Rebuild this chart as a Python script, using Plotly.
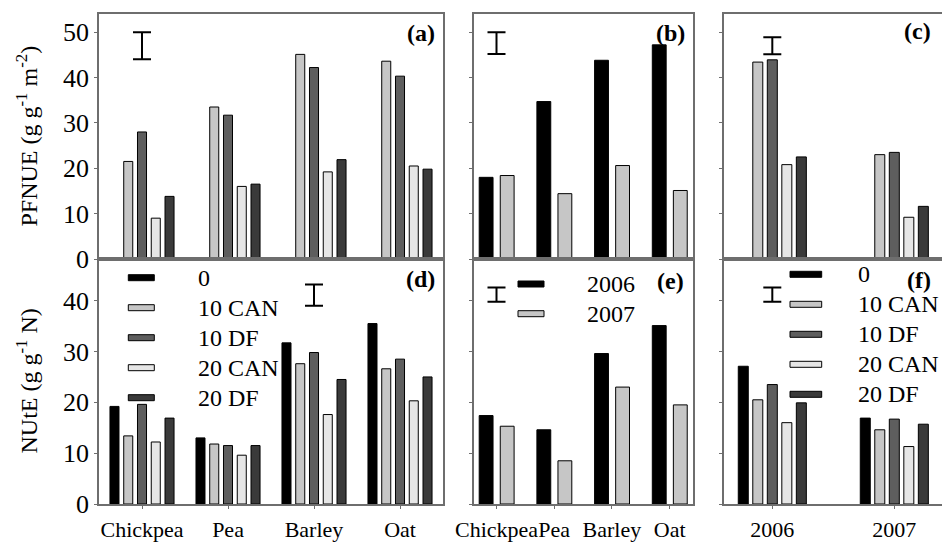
import plotly.graph_objects as go
from plotly.subplots import make_subplots

# ---------------- data ----------------
crops = ["Chickpea", "Pea", "Barley", "Oat"]
years = ["2006", "2007"]
treatments = ["0", "10 CAN", "10 DF", "20 CAN", "20 DF"]

# (a) PFNUE by crop and N treatment (no value for 0 N)
pfnue_crop_0 = [None, None, None, None]
pfnue_crop_10can = [21.5, 33.5, 45.1, 43.6]
pfnue_crop_10df = [28.0, 31.7, 42.2, 40.3]
pfnue_crop_20can = [9.0, 16.0, 19.2, 20.5]
pfnue_crop_20df = [13.8, 16.5, 21.9, 19.8]

# (b) PFNUE by crop and year
pfnue_crop_2006 = [18.0, 34.7, 43.8, 47.2]
pfnue_crop_2007 = [18.4, 14.4, 20.6, 15.1]

# (c) PFNUE by year and N treatment
pfnue_year_0 = [None, None]
pfnue_year_10can = [43.4, 23.0]
pfnue_year_10df = [43.9, 23.5]
pfnue_year_20can = [20.8, 9.2]
pfnue_year_20df = [22.5, 11.6]

# (d) NUtE by crop and N treatment
nute_crop_0 = [19.2, 13.0, 31.7, 35.5]
nute_crop_10can = [13.4, 11.8, 27.6, 26.6]
nute_crop_10df = [19.6, 11.5, 29.8, 28.5]
nute_crop_20can = [12.2, 9.6, 17.6, 20.3]
nute_crop_20df = [16.9, 11.5, 24.5, 25.0]

# (e) NUtE by crop and year
nute_crop_2006 = [17.4, 14.6, 29.6, 35.1]
nute_crop_2007 = [15.3, 8.5, 23.0, 19.5]

# (f) NUtE by year and N treatment
nute_year_0 = [27.1, 16.9]
nute_year_10can = [20.5, 14.6]
nute_year_10df = [23.5, 16.7]
nute_year_20can = [16.0, 11.3]
nute_year_20df = [19.9, 15.7]

# LSD bars: category, centre, half length  (panels a..f)
lsd_x = ["Chickpea", "Chickpea", "2006", "Barley", "Chickpea", "2006"]
lsd_center = [47.0, 47.6, 47.0, 41.1, 41.2, 41.2]
lsd_half = [3.0, 2.4, 1.85, 2.1, 1.4, 1.4]

# ---------------- styles ----------------
trt_colors = ["#000000", "#c6c6c6", "#5e5e5e", "#e6e6e6", "#3a3a3a"]
year_colors = ["#000000", "#c6c6c6"]
FONT = "Liberation Serif, Times New Roman, serif"
AX = "#6e6e6e"

W, H = 942, 542
L, R, T, B = 99, 0, 14, 38
PW, PH = W - L - R, H - T - B


def px(x):
    return (x - L) / PW


def py(y):
    return (H - B - y) / PH


fig = make_subplots(rows=2, cols=3)

pan_a = [pfnue_crop_0, pfnue_crop_10can, pfnue_crop_10df, pfnue_crop_20can, pfnue_crop_20df]
pan_c = [pfnue_year_0, pfnue_year_10can, pfnue_year_10df, pfnue_year_20can, pfnue_year_20df]
pan_d = [nute_crop_0, nute_crop_10can, nute_crop_10df, nute_crop_20can, nute_crop_20df]
pan_f = [nute_year_0, nute_year_10can, nute_year_10df, nute_year_20can, nute_year_20df]
pan_b = [pfnue_crop_2006, pfnue_crop_2007]
pan_e = [nute_crop_2006, nute_crop_2007]


def add_trt(panel, cats, row, col, pitch, width):
    for i, vals in enumerate(panel):
        fig.add_trace(go.Bar(
            x=cats, y=vals, name=treatments[i],
            marker=dict(color=trt_colors[i], line=dict(color="black", width=1)),
            width=width, offset=(i - 2) * pitch - width / 2,
            showlegend=False), row=row, col=col)


def add_year(panel, cats, row, col):
    offs = [-0.30, 0.065]
    for i, vals in enumerate(panel):
        fig.add_trace(go.Bar(
            x=cats, y=vals, name=years[i],
            marker=dict(color=year_colors[i], line=dict(color="black", width=1)),
            width=0.24, offset=offs[i], showlegend=False), row=row, col=col)


add_trt(pan_a, crops, 1, 1, 0.16, 0.105)
add_year(pan_b, crops, 1, 2)
add_trt(pan_c, years, 1, 3, 0.119, 0.082)
add_trt(pan_d, crops, 2, 1, 0.16, 0.105)
add_year(pan_e, crops, 2, 2)
add_trt(pan_f, years, 2, 3, 0.119, 0.082)

# LSD bars
cells = [(1, 1), (1, 2), (1, 3), (2, 1), (2, 2), (2, 3)]
for k, (r, c) in enumerate(cells):
    fig.add_trace(go.Scatter(
        x=[lsd_x[k]], y=[lsd_center[k]], mode="markers",
        marker=dict(size=1, color="rgba(0,0,0,0)"),
        error_y=dict(type="data", array=[lsd_half[k]], color="black",
                     thickness=2, width=9),
        showlegend=False, hoverinfo="skip"), row=r, col=c)

fig.update_layout(
    width=W, height=H, barmode="overlay",
    margin=dict(l=L, r=R, t=T, b=B),
    paper_bgcolor="white", plot_bgcolor="white",
    font=dict(family=FONT, size=24, color="black"),
)

xdom = [[px(99), px(443)], [px(474), px(692.7)], [px(724), 1.0]]
xr = [[-0.5, 3.5], [-0.39, 3.40], [-0.396, 1.391]]
ydom = [[0.5, 1.0], [0.0, 0.5]]
yr = [[0, 54.0], [0, 48.2]]

for r in (1, 2):
    for c in (1, 2, 3):
        idx = (r - 1) * 3 + c
        xa = "xaxis" if idx == 1 else f"xaxis{idx}"
        ya = "yaxis" if idx == 1 else f"yaxis{idx}"
        fig.layout[xa].update(
            domain=xdom[c - 1], range=xr[c - 1], type="category",
            showline=True, linecolor=AX, linewidth=1.5, mirror=True,
            showgrid=False, zeroline=False, tickangle=0,
            ticks="outside" if r == 2 else "", ticklen=3, tickcolor=AX,
            ticklabelstandoff=2,
            showticklabels=(r == 2), tickfont=dict(size=22, family=FONT))
        fig.layout[ya].update(
            domain=ydom[r - 1], range=yr[r - 1],
            showline=True, linecolor=AX, linewidth=1.5, mirror=(c != 3),
            showgrid=False, zeroline=False,
            ticks="outside", ticklen=3, tickcolor=AX, dtick=10,
            showticklabels=(c == 1), tickfont=dict(size=26, family=FONT))

# y titles
fig.add_annotation(text="PFNUE (g g<sup>-1</sup> m<sup>-2</sup>)", xref="paper", yref="paper",
                   x=px(26), y=py(136.5), textangle=-90, showarrow=False,
                   font=dict(size=24, family=FONT), xanchor="center", yanchor="middle")
fig.add_annotation(text="NUtE (g g<sup>-1</sup> N)", xref="paper", yref="paper",
                   x=px(26), y=py(381.5), textangle=-90, showarrow=False,
                   font=dict(size=24, family=FONT), xanchor="center", yanchor="middle")

# panel letters
for lab, xx, yy in [("(a)", 437, 33), ("(b)", 687, 33), ("(c)", 933, 31),
                    ("(d)", 437, 279), ("(e)", 686, 281), ("(f)", 933, 280)]:
    fig.add_annotation(text=f"<b>{lab}</b>", xref="paper", yref="paper",
                       x=px(xx), y=py(yy), showarrow=False, xanchor="right",
                       yanchor="middle", font=dict(size=24, family=FONT))


def legend(labels, colors, x0, x1, ytop, step, tx):
    for i, (lab, col) in enumerate(zip(labels, colors)):
        yc = ytop + i * step
        fig.add_shape(type="rect", xref="paper", yref="paper",
                      x0=px(x0), x1=px(x1), y0=py(yc - 3), y1=py(yc + 3),
                      fillcolor=col, line=dict(color="black", width=1))
        fig.add_annotation(text=lab, xref="paper", yref="paper", x=px(tx), y=py(yc),
                           xanchor="left", yanchor="middle", showarrow=False,
                           font=dict(size=24, family=FONT))


legend(treatments, trt_colors, 128.3, 154.3, 277.7, 30, 196)
legend(years, year_colors, 518, 544, 284, 29.7, 585)
legend(treatments, trt_colors, 790, 821.7, 274.3, 30, 856)

fig.write_html("out.html", config={"displayModeBar": False},
               post_script="document.body.style.margin='0';document.body.style.overflow='hidden';")
